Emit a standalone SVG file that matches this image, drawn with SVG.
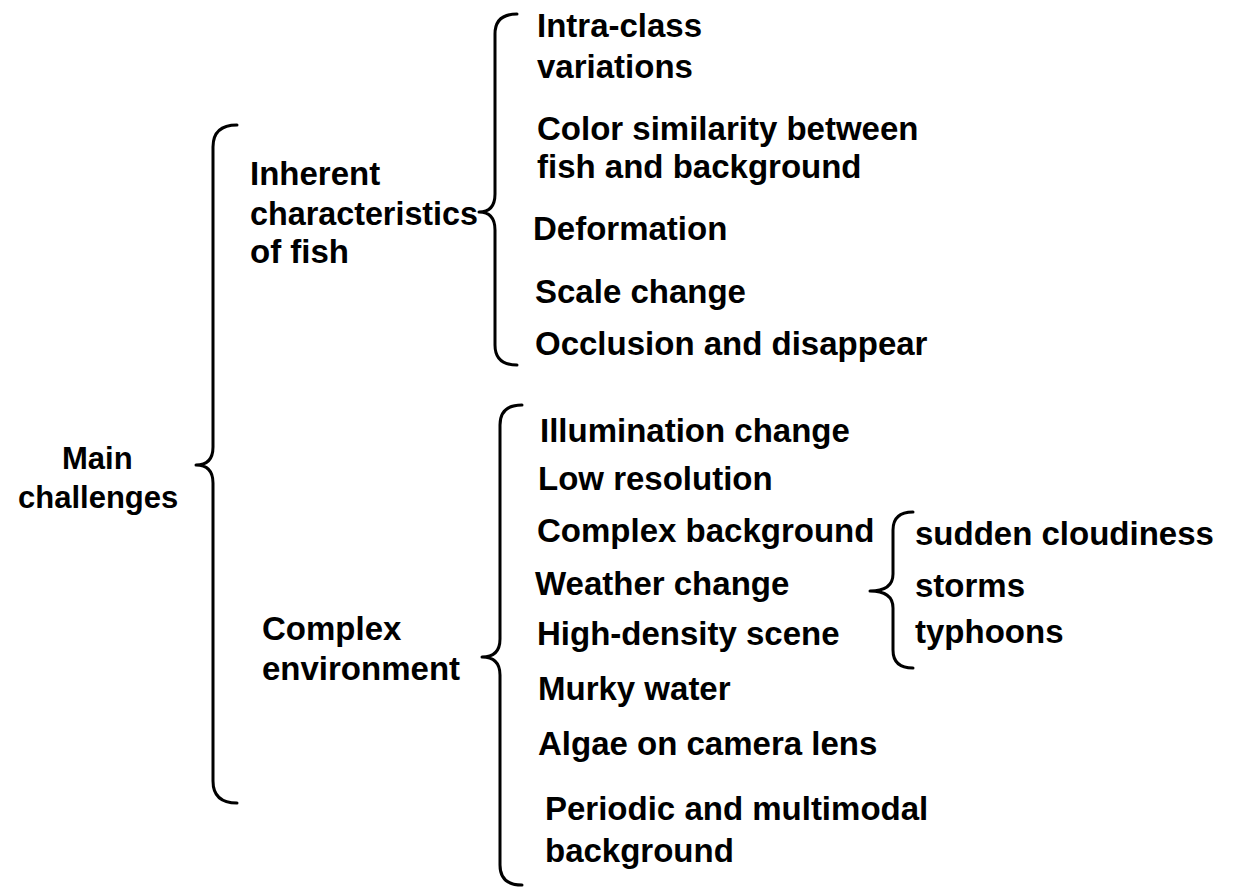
<svg xmlns="http://www.w3.org/2000/svg" width="1233" height="889" viewBox="0 0 1233 889">
<style>
.t{font-family:"Liberation Sans",Arial,sans-serif;font-weight:bold;font-size:33px;fill:#000}
.r{font-size:31px}
.b{fill:none;stroke:#000;stroke-width:3;stroke-linecap:round;stroke-linejoin:round}
</style>
<rect width="1233" height="889" fill="#fff"/>
<g id="connectors">
<path class="b" d="M237,125 Q213,125 213,147 L213,447 Q213,465 196,465 Q213,465 213,483 L213,781 Q213,803 237,803"/>
<path class="b" d="M517,14 Q495,14 495,34 L495,194 Q495,212 479,212 Q495,212 495,230 L495,345 Q495,365 517,365"/>
<path class="b" d="M522,405 Q500,405 500,425 L500,639 Q500,657 482,657 Q500,657 500,675 L500,865 Q500,885 522,885"/>
<path class="b" d="M913,512 Q893,512 893,530 L893,574 Q893,591 870,591 Q893,591 893,608 L893,650 Q893,668 913,668"/>
</g>
<g id="root"><text class="t r" x="62" y="469">Main</text><text class="t r" x="18" y="508">challenges</text></g>
<g id="inherent"><text class="t" x="250" y="185">Inherent</text><text class="t" x="250" y="225" textLength="228" lengthAdjust="spacingAndGlyphs">characteristics</text><text class="t" x="250" y="263">of fish</text></g>
<g id="complex"><text class="t" x="262" y="640">Complex</text><text class="t" x="262" y="680">environment</text></g>
<g id="n1"><text class="t" x="537" y="37">Intra-class</text><text class="t" x="537" y="78">variations</text></g>
<g id="n2"><text class="t" x="537" y="140">Color similarity between</text><text class="t" x="537" y="178">fish and background</text></g>
<g id="n3"><text class="t" x="533" y="240">Deformation</text></g>
<g id="n4"><text class="t" x="535" y="303">Scale change</text></g>
<g id="n5"><text class="t" x="535" y="355">Occlusion and disappear</text></g>
<g id="n6"><text class="t" x="540" y="442">Illumination change</text></g>
<g id="n7"><text class="t" x="538" y="490">Low resolution</text></g>
<g id="n8"><text class="t" x="537" y="542">Complex background</text></g>
<g id="n9"><text class="t" x="535" y="595">Weather change</text></g>
<g id="n10"><text class="t" x="537" y="645">High-density scene</text></g>
<g id="n11"><text class="t" x="538" y="700">Murky water</text></g>
<g id="n12"><text class="t" x="538" y="755">Algae on camera lens</text></g>
<g id="n13"><text class="t" x="545" y="820">Periodic and multimodal</text><text class="t" x="545" y="862">background</text></g>
<g id="w1"><text class="t" x="915" y="545">sudden cloudiness</text></g>
<g id="w2"><text class="t" x="915" y="597">storms</text></g>
<g id="w3"><text class="t" x="915" y="643">typhoons</text></g>
</svg>
